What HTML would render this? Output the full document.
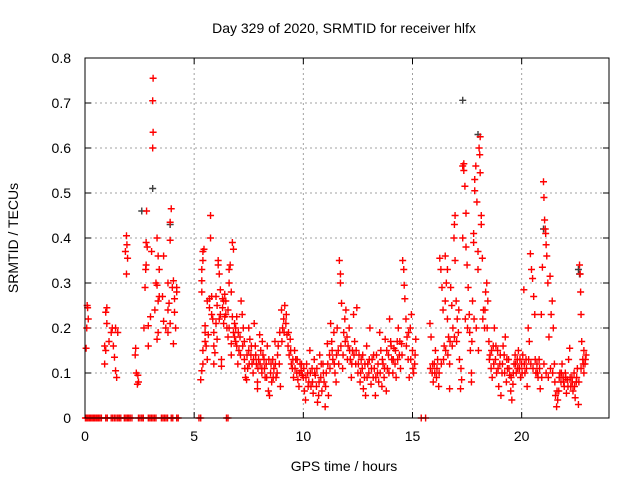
<!DOCTYPE html>
<html><head><meta charset="utf-8"><style>
html,body{margin:0;padding:0;background:#fff}
svg{display:block;font-family:"Liberation Sans",sans-serif}
</style></head><body>
<svg id="chart" width="640" height="480" xmlns="http://www.w3.org/2000/svg">
<text x="344" y="33" font-size="14" text-anchor="middle">Day 329 of 2020, SRMTID for receiver hlfx</text>
<text transform="translate(18,238) rotate(-90)" font-size="14" text-anchor="middle">SRMTID / TECUs</text>
<text x="344" y="471" font-size="14" text-anchor="middle">GPS time / hours</text>
<g id="grid"></g><g id="ticks"></g><g id="marks"></g>
<rect x="85" y="58" width="524" height="360" fill="none" stroke="#000" stroke-width="1"/>
</svg>
<script>
const xTicks=[0,5,10,15,20];
const yTicks=[0,0.1,0.2,0.3,0.4,0.5,0.6,0.7,0.8];
const yTickLabels=["0","0.1","0.2","0.3","0.4","0.5","0.6","0.7","0.8"];
const zeroTimes=[0.02,0.08,0.14,0.2,0.26,0.32,0.38,0.44,0.5,0.56,0.62,0.68,0.75,0.95,1.02,1.2,1.27,1.35,1.42,1.5,1.57,1.64,1.8,1.87,1.94,2.0,2.07,2.15,2.45,2.52,2.6,2.67,2.9,2.97,3.04,3.11,3.18,3.25,3.5,3.57,3.64,3.71,3.78,3.95,4.02,4.2,4.27,5.22,5.3,6.48,6.55,15.4,15.6];
const redSeries=[[0.05,0.155],[0.08,0.2],[0.1,0.25],[0.15,0.22],[0.12,0.245],[0.9,0.16],[0.95,0.235],[1.0,0.245],[0.9,0.12],[1.0,0.21],[1.1,0.17],[1.2,0.19],[1.25,0.2],[1.3,0.16],[1.35,0.135],[1.4,0.105],[1.45,0.09],[1.5,0.19],[1.4,0.2],[0.95,0.15],
[1.85,0.37],[1.9,0.405],[1.92,0.385],[1.95,0.355],[1.9,0.32],
[2.3,0.14],[2.32,0.155],[2.35,0.1],[2.4,0.075],[2.42,0.095],[2.45,0.08],
[2.7,0.2],[2.75,0.29],[2.78,0.33],[2.8,0.39],[2.82,0.46],[2.85,0.38],[2.8,0.34],[2.9,0.16],[2.9,0.205],[3.0,0.225],[3.05,0.37],[3.1,0.6],[3.12,0.635],[3.1,0.705],[3.12,0.755],[3.2,0.24],[3.25,0.3],[3.3,0.4],[3.3,0.295],[3.35,0.36],[3.35,0.26],[3.4,0.33],[3.35,0.19],[3.3,0.175],[3.4,0.27],[3.6,0.36],[3.55,0.27],[3.6,0.215],[3.7,0.2],[3.8,0.19],[3.8,0.3],[3.85,0.255],[3.8,0.24],[3.9,0.395],[3.9,0.435],[3.95,0.465],[3.9,0.21],[4.0,0.29],[4.05,0.305],[4.1,0.265],[4.1,0.235],[4.05,0.165],[4.15,0.2],[4.2,0.29],[4.2,0.28],
[5.3,0.085],[5.35,0.105],[5.4,0.12],[5.4,0.15],[5.35,0.28],[5.35,0.305],[5.35,0.33],[5.4,0.35],[5.4,0.37],[5.45,0.375],[5.5,0.205],[5.5,0.17],[5.55,0.16],[5.6,0.13],[5.65,0.185],[5.7,0.245],[5.7,0.265],[5.75,0.4],[5.75,0.45],[5.8,0.27],[5.85,0.22],[5.9,0.19],[5.9,0.12],[5.95,0.145],[6.0,0.27],[6.0,0.21],[6.05,0.175],[6.1,0.35],[6.1,0.34],[6.15,0.32],[6.2,0.285],[6.2,0.23],[6.25,0.115],[6.25,0.13],[6.3,0.265],[6.3,0.245],[6.35,0.26],[6.4,0.275],[6.4,0.225],[6.45,0.23],[6.5,0.2],[6.55,0.24],[6.6,0.33],[6.6,0.3],[6.65,0.34],[6.7,0.28],[6.75,0.39],[6.8,0.375],[6.75,0.225],[6.8,0.19],[6.85,0.18],[6.9,0.17],[6.9,0.2],[6.95,0.225],[6.7,0.14],[6.6,0.2],[6.7,0.165],
[7.0,0.12],[7.05,0.15],[7.1,0.18],[7.15,0.26],[7.2,0.23],[7.25,0.2],[7.3,0.17],[7.3,0.13],[7.35,0.09],[7.4,0.085],[7.45,0.11],[7.5,0.15],[7.5,0.2],[7.55,0.175],[7.6,0.14],[7.65,0.12],[7.7,0.1],[7.75,0.21],[7.8,0.16],[7.85,0.12],[7.9,0.08],[7.9,0.065],[7.95,0.13],[8.0,0.185],[8.05,0.15],[8.1,0.1],[8.1,0.11],[8.15,0.14],[8.2,0.13],[8.25,0.09],[8.3,0.12],[8.35,0.16],[8.4,0.06],[8.45,0.05],[8.5,0.1],[8.55,0.08],[8.6,0.13],[8.65,0.11],[8.7,0.17],[8.75,0.09],[8.8,0.1],[8.85,0.16],[8.9,0.12],[8.95,0.07],[9.0,0.24],[9.05,0.2],[9.1,0.22],[9.15,0.25],[9.2,0.21],[9.25,0.185],[9.3,0.16],[9.35,0.14],[9.4,0.175],[9.45,0.12],[9.5,0.11],[9.55,0.09],[9.6,0.15],[9.65,0.13],[9.7,0.1],[9.75,0.085],[9.8,0.07],[9.85,0.12],[9.9,0.105],[9.95,0.095],
[10.0,0.09],[10.05,0.06],[10.1,0.04],[10.15,0.12],[10.2,0.1],[10.25,0.08],[10.3,0.15],[10.35,0.07],[10.4,0.11],[10.45,0.055],[10.5,0.13],[10.55,0.095],[10.6,0.07],[10.65,0.035],[10.7,0.05],[10.75,0.14],[10.8,0.09],[10.85,0.06],[10.9,0.12],[10.95,0.08],[11.0,0.025],[11.05,0.1],[11.1,0.165],[11.15,0.05],[11.2,0.14],[11.25,0.21],[11.3,0.17],[11.35,0.13],[11.4,0.19],[11.45,0.1],[11.5,0.08],[11.55,0.2],[11.6,0.15],[11.65,0.35],[11.7,0.3],[11.7,0.32],[11.75,0.255],[11.8,0.11],[11.85,0.19],[11.9,0.22],[11.95,0.24],[12.0,0.18],[12.05,0.16],[12.1,0.2],[12.15,0.13],[12.2,0.09],[12.25,0.15],[12.3,0.23],[12.35,0.17],[12.4,0.12],[12.45,0.245],[12.5,0.1],[12.55,0.14],[12.6,0.08],[12.65,0.13],[12.7,0.11],[12.75,0.065],[12.8,0.09],[12.85,0.05],[12.9,0.16],[12.95,0.12],[13.0,0.1],[13.05,0.2],[13.1,0.075],[13.15,0.13],[13.2,0.09],[13.25,0.11],[13.3,0.05],[13.35,0.14],[13.4,0.1],[13.45,0.08],[13.5,0.19],[13.55,0.15],[13.6,0.07],[13.65,0.12],[13.7,0.09],[13.75,0.175],[13.8,0.06],[13.85,0.11],[13.9,0.14],[13.95,0.22],[14.0,0.17],[14.05,0.13],[14.1,0.1],[14.15,0.155],[14.2,0.12],[14.25,0.09],[14.3,0.17],[14.35,0.2],[14.4,0.14],[14.45,0.11],[14.5,0.165],[14.55,0.35],[14.6,0.33],[14.62,0.295],[14.65,0.265],[14.7,0.22],[14.75,0.18],[14.8,0.13],[14.85,0.09],[14.9,0.2],[14.95,0.23],[15.0,0.15],[15.05,0.1],[15.1,0.12],[15.15,0.175],
[15.8,0.21],[15.85,0.18],[15.9,0.1],[15.95,0.08],[16.0,0.12],[16.05,0.15],[16.1,0.09],[16.15,0.13],[16.2,0.07],[16.25,0.355],[16.3,0.33],[16.35,0.29],[16.4,0.24],[16.45,0.16],[16.5,0.36],[16.5,0.26],[16.55,0.3],[16.6,0.22],[16.6,0.33],[16.65,0.18],[16.7,0.12],[16.7,0.065],[16.75,0.29],[16.8,0.25],[16.85,0.2],[16.9,0.4],[16.92,0.43],[16.95,0.45],[16.95,0.35],[17.0,0.26],[17.05,0.22],[17.1,0.19],[17.15,0.13],[17.2,0.065],[17.25,0.085],[17.3,0.4],[17.3,0.56],[17.35,0.565],[17.35,0.55],[17.4,0.515],[17.45,0.455],[17.45,0.38],[17.5,0.34],[17.55,0.29],[17.6,0.23],[17.65,0.15],[17.7,0.1],[17.7,0.08],[17.75,0.26],[17.8,0.39],[17.8,0.41],[17.85,0.53],[17.85,0.505],[17.9,0.56],[17.95,0.48],[18.0,0.37],[18.0,0.33],[18.05,0.6],[18.1,0.625],[18.08,0.585],[18.1,0.545],[18.15,0.45],[18.15,0.43],[18.2,0.355],[18.25,0.24],[18.3,0.2],[18.35,0.28],[18.4,0.3],[18.45,0.26],[18.5,0.17],[18.55,0.14],[18.6,0.11],[18.65,0.09],[18.7,0.16],[18.75,0.2],[18.8,0.13],[18.85,0.1],[18.9,0.15],[18.95,0.07],[19.0,0.12],[19.05,0.05],[19.1,0.1],[19.15,0.16],[19.2,0.14],[19.25,0.18],[19.3,0.08],[19.35,0.11],[19.4,0.13],[19.45,0.095],[19.5,0.06],[19.55,0.04],[19.6,0.075],[19.65,0.12],[19.7,0.14],[19.75,0.1],[19.8,0.13],[19.85,0.15],[19.9,0.11],[19.95,0.09],[20.0,0.12],[20.05,0.14],[20.1,0.285],[20.15,0.1],[20.2,0.13],[20.25,0.07],[20.3,0.2],[20.35,0.17],[20.4,0.365],[20.45,0.33],[20.5,0.31],[20.55,0.27],[20.6,0.23],[20.65,0.1],[20.7,0.12],[20.75,0.09],[20.8,0.13],[20.85,0.065],[20.9,0.23],[20.95,0.335],[21.0,0.525],[21.02,0.49],[21.05,0.44],[21.08,0.42],[21.1,0.41],[21.12,0.385],[21.15,0.36],[21.2,0.3],[21.25,0.18],[21.3,0.315],[21.35,0.23],[21.4,0.26],[21.45,0.2],[21.5,0.12],[21.55,0.05],[21.6,0.025],[21.65,0.04],[21.7,0.06],[21.75,0.1],[21.8,0.08],[21.85,0.12],[21.9,0.09],[21.95,0.07],[22.0,0.1],[22.05,0.055],[22.1,0.085],[22.15,0.13],[22.2,0.155],[22.25,0.07],[22.3,0.09],[22.35,0.06],[22.4,0.1],[22.45,0.045],[22.5,0.08],[22.55,0.11],[22.6,0.03],[22.65,0.34],[22.68,0.32],[22.7,0.28],[22.72,0.23],[22.75,0.17],[22.8,0.13],[22.85,0.15],[22.9,0.12],[22.95,0.14],[22.85,0.1]];
const redSeriesExtra=[[5.5,0.19],[5.6,0.26],[5.8,0.23],[5.9,0.16],[6.05,0.25],[6.15,0.22],[6.35,0.21],[6.45,0.26],[6.55,0.18],[6.85,0.21],[6.95,0.16],
[7.02,0.19],[7.12,0.14],[7.22,0.16],[7.32,0.11],[7.42,0.14],[7.52,0.12],[7.62,0.16],[7.72,0.13],[7.82,0.14],[7.92,0.11],[8.02,0.12],[8.12,0.17],[8.22,0.11],[8.32,0.09],[8.42,0.13],[8.52,0.12],[8.62,0.09],[8.72,0.12],[8.82,0.14],[8.92,0.19],[9.02,0.17],[9.12,0.19],[9.22,0.23],[9.32,0.19],[9.42,0.15],[9.52,0.13],[9.62,0.11],[9.72,0.13],[9.82,0.1],[9.92,0.12],
[10.02,0.11],[10.12,0.09],[10.22,0.07],[10.32,0.1],[10.42,0.08],[10.52,0.1],[10.62,0.11],[10.72,0.08],[10.82,0.12],[10.92,0.1],[11.02,0.07],[11.12,0.12],[11.22,0.11],[11.32,0.15],[11.42,0.12],[11.52,0.14],[11.62,0.12],[11.72,0.16],[11.82,0.14],[11.92,0.17],[12.02,0.13],[12.12,0.15],[12.22,0.12],[12.32,0.14],[12.42,0.15],[12.52,0.12],[12.62,0.1],[12.72,0.14],[12.82,0.12],[12.92,0.09],[13.02,0.13],[13.12,0.11],[13.22,0.14],[13.32,0.09],[13.42,0.12],[13.52,0.1],[13.62,0.13],[13.72,0.11],[13.82,0.15],[13.92,0.1],[14.02,0.16],[14.12,0.13],[14.22,0.15],[14.32,0.13],[14.42,0.17],[14.52,0.14],[14.72,0.16],[14.82,0.19],[14.92,0.13],[15.02,0.11],[15.12,0.14],
[15.82,0.11],[15.92,0.12],[16.02,0.1],[16.12,0.11],[16.22,0.1],[16.32,0.12],[16.42,0.13],[16.52,0.15],[16.62,0.14],[16.72,0.17],[16.82,0.16],[16.92,0.18],[17.02,0.17],[17.12,0.24],[17.22,0.11],[17.42,0.22],[17.52,0.2],[17.62,0.19],[17.72,0.17],[17.82,0.22],[17.92,0.2],[18.02,0.15],[18.22,0.22],[18.32,0.24],[18.42,0.2],[18.52,0.13],[18.62,0.15],[18.72,0.12],[18.82,0.16],[18.92,0.11],[19.02,0.14],[19.12,0.12],[19.22,0.1],[19.32,0.13],[19.42,0.11],[19.52,0.09],[19.62,0.1],[19.72,0.12],[19.82,0.11],[19.92,0.13],[20.02,0.1],[20.12,0.12],[20.22,0.11],[20.32,0.13],[20.42,0.12],[20.52,0.11],[20.62,0.13],[20.72,0.1],[20.82,0.11],[20.92,0.09],[21.02,0.12],[21.12,0.1],[21.22,0.09],[21.32,0.11],[21.42,0.1],[21.52,0.08],[21.62,0.06],[21.72,0.09],[21.82,0.1],[21.92,0.08],[22.02,0.09],[22.12,0.07],[22.22,0.09],[22.32,0.08],[22.42,0.07],[22.52,0.09],[22.62,0.08],[22.72,0.11],[22.82,0.12],[22.92,0.13]];
const greySeries=[[3.1,0.51],[17.3,0.706],[18.0,0.63],[2.6,0.46],[3.9,0.43],[21.0,0.42],[22.6,0.33],[22.65,0.32]];

const NS="http://www.w3.org/2000/svg";
const L=85,R=609,T=58,B=418,XMAX=24,YMAX=0.8;
function xs(t){return L+(t/XMAX)*(R-L);}
function ys(v){return B-(v/YMAX)*(B-T);}
function mk(tag,attrs,parent){const e=document.createElementNS(NS,tag);for(const k in attrs)e.setAttribute(k,attrs[k]);parent.appendChild(e);return e;}
const grid=document.getElementById('grid'),ticks=document.getElementById('ticks'),marks=document.getElementById('marks');
xTicks.forEach(t=>{const x=xs(t);
 if(t>0){const g=mk('line',{x1:x,y1:T,x2:x,y2:B,stroke:'#a0a0a0','stroke-dasharray':'2,3'},grid);
 
 }
 mk('line',{x1:x,y1:B,x2:x,y2:B-6,stroke:'#000'},ticks);mk('line',{x1:x,y1:T,x2:x,y2:T+6,stroke:'#000'},ticks);
 const lb=mk('text',{x:x,y:B+23,'font-size':14,'text-anchor':'middle'},ticks);lb.textContent=t;
 
 });
yTicks.forEach((v,i)=>{const y=ys(v);
 if(v>0&&v<YMAX){const g=mk('line',{x1:L,y1:y,x2:R,y2:y,stroke:'#a0a0a0','stroke-dasharray':'2,3'},grid);
 
 }
 mk('line',{x1:L,y1:y,x2:L+6,y2:y,stroke:'#000'},ticks);mk('line',{x1:R,y1:y,x2:R-6,y2:y,stroke:'#000'},ticks);
 const lb=mk('text',{x:71,y:y+5,'font-size':14,'text-anchor':'end'},ticks);lb.textContent=yTickLabels[i];
 
 });
function plus(t,v,color,name){const x=xs(t),y=ys(v);
 const p=mk('path',{d:`M${x-3.5} ${y}H${x+3.5}M${x} ${y-3.5}V${y+3.5}`,stroke:color,'stroke-width':1.4,fill:'none'},marks);
 
 }
greySeries.forEach(d=>plus(d[0],d[1],'#404040','grey-point'));
redSeries.forEach(d=>plus(d[0],d[1],'#ff0000','red-point'));
redSeriesExtra.forEach(d=>plus(d[0],d[1],'#ff0000','red-point'));
zeroTimes.forEach(t=>plus(t,0,'#ff0000','zero-point'));
</script>
</body></html>
